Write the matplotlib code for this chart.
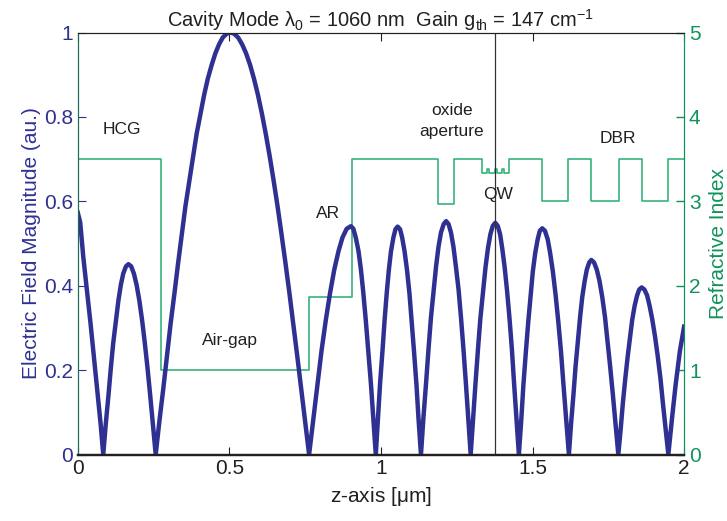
import numpy as np
import matplotlib.pyplot as plt

plt.rcParams['font.family'] = ['Liberation Sans', 'DejaVu Sans']
plt.rcParams['mathtext.fontset'] = 'custom'
plt.rcParams['mathtext.rm'] = 'Liberation Sans'
plt.rcParams['mathtext.it'] = 'Liberation Sans'

# ---------------------------------------------------------------------------
# Data
# ---------------------------------------------------------------------------

# electric field magnitude |E| along z (um), one arc per two lines
field_z = [
    0.000, 0.008, 0.018, 0.042, 0.064, 0.075, 0.084,
    0.092, 0.101, 0.109, 0.117, 0.126, 0.134, 0.142, 0.150, 0.159, 0.167,
    0.176, 0.185, 0.194, 0.203, 0.212, 0.221, 0.230, 0.239, 0.248, 0.257,
    0.269, 0.282, 0.294, 0.306, 0.319, 0.331, 0.343, 0.355, 0.368, 0.380,
    0.392, 0.405, 0.417, 0.429, 0.442, 0.454, 0.466, 0.478, 0.491, 0.503,
    0.516, 0.529, 0.542, 0.555, 0.568, 0.581, 0.594, 0.607, 0.620, 0.633,
    0.646, 0.659, 0.672, 0.685, 0.698, 0.711, 0.724, 0.737, 0.750, 0.763,
    0.777, 0.791, 0.804, 0.818, 0.832, 0.846, 0.860, 0.873, 0.887, 0.901,
    0.909, 0.917, 0.926, 0.934, 0.942, 0.950, 0.958, 0.967, 0.975, 0.983,
    0.990, 0.997, 1.005, 1.012, 1.019, 1.026, 1.033, 1.041, 1.048, 1.055,
    1.063, 1.070, 1.078, 1.086, 1.094, 1.101, 1.109, 1.117, 1.124, 1.132,
    1.140, 1.149, 1.157, 1.165, 1.174, 1.182, 1.190, 1.198, 1.207, 1.215,
    1.223, 1.231, 1.239, 1.247, 1.256, 1.264, 1.272, 1.280, 1.288, 1.296,
    1.304, 1.312, 1.320, 1.328, 1.337, 1.345, 1.353, 1.361, 1.369, 1.377,
    1.385, 1.393, 1.400, 1.408, 1.416, 1.424, 1.432, 1.439, 1.447, 1.455,
    1.463, 1.470, 1.478, 1.486, 1.494, 1.501, 1.509, 1.517, 1.524, 1.532,
    1.541, 1.550, 1.558, 1.567, 1.576, 1.585, 1.594, 1.602, 1.611, 1.620,
    1.627, 1.635, 1.642, 1.650, 1.657, 1.664, 1.672, 1.679, 1.687, 1.694,
    1.703, 1.712, 1.721, 1.730, 1.739, 1.747, 1.756, 1.765, 1.774, 1.783,
    1.791, 1.798, 1.806, 1.814, 1.822, 1.829, 1.837, 1.845, 1.852, 1.860,
    1.869, 1.878, 1.886, 1.895, 1.904, 1.913, 1.922, 1.930, 1.939, 1.948,
    1.960, 1.972, 1.986, 2.000,
]
field_e = [
    0.573, 0.550, 0.469, 0.311, 0.153, 0.075, 0.000,
    0.070, 0.139, 0.205, 0.265, 0.319, 0.365, 0.402, 0.429, 0.446, 0.451,
    0.446, 0.429, 0.402, 0.365, 0.319, 0.265, 0.205, 0.139, 0.070, 0.000,
    0.078, 0.156, 0.233, 0.309, 0.383, 0.454, 0.522, 0.588, 0.649, 0.707,
    0.760, 0.809, 0.853, 0.891, 0.924, 0.951, 0.972, 0.988, 0.997, 1.000,
    0.997, 0.988, 0.972, 0.951, 0.924, 0.891, 0.853, 0.809, 0.760, 0.707,
    0.649, 0.588, 0.522, 0.454, 0.383, 0.309, 0.233, 0.156, 0.078, 0.000,
    0.084, 0.167, 0.246, 0.318, 0.382, 0.438, 0.482, 0.514, 0.535, 0.541,
    0.535, 0.514, 0.482, 0.438, 0.382, 0.318, 0.246, 0.167, 0.084, 0.000,
    0.084, 0.167, 0.245, 0.318, 0.382, 0.437, 0.481, 0.514, 0.534, 0.540,
    0.534, 0.514, 0.481, 0.437, 0.382, 0.318, 0.245, 0.167, 0.084, 0.000,
    0.086, 0.171, 0.251, 0.325, 0.391, 0.447, 0.493, 0.526, 0.546, 0.553,
    0.546, 0.526, 0.493, 0.447, 0.391, 0.325, 0.251, 0.171, 0.086, 0.000,
    0.086, 0.170, 0.249, 0.323, 0.388, 0.444, 0.489, 0.522, 0.542, 0.549,
    0.542, 0.522, 0.489, 0.444, 0.388, 0.323, 0.249, 0.170, 0.086, 0.000,
    0.084, 0.166, 0.243, 0.315, 0.379, 0.434, 0.478, 0.510, 0.530, 0.536,
    0.530, 0.510, 0.478, 0.434, 0.379, 0.315, 0.243, 0.166, 0.084, 0.000,
    0.072, 0.142, 0.209, 0.271, 0.326, 0.373, 0.411, 0.438, 0.455, 0.461,
    0.455, 0.438, 0.411, 0.373, 0.326, 0.271, 0.209, 0.142, 0.072, 0.000,
    0.062, 0.122, 0.180, 0.233, 0.280, 0.320, 0.353, 0.377, 0.391, 0.396,
    0.391, 0.377, 0.353, 0.320, 0.280, 0.233, 0.180, 0.122, 0.062, 0.000,
    0.085, 0.165, 0.245, 0.303,
]

# refractive index profile: layer edges (um) and index of each layer
index_edges = [0.0, 0.276, 0.762, 0.903, 1.189, 1.241, 1.333, 1.3505, 1.3575,
               1.375, 1.382, 1.3995, 1.4065, 1.424, 1.532, 1.618, 1.692, 1.785,
               1.860, 1.946, 2.0]
index_vals = [3.5, 1.0, 1.87, 3.5, 2.97, 3.5, 3.34, 3.38, 3.34,
              3.38, 3.34, 3.38, 3.34, 3.5, 3.0, 3.5, 3.0, 3.5,
              3.0, 3.5]

qw_position = 1.377

labels_text = ['HCG', 'Air-gap', 'AR', 'oxide\naperture', 'QW', 'DBR']
labels_z = [0.145, 0.503, 0.825, 1.234, 1.387, 1.780]
labels_e = [0.77, 0.27, 0.57, 0.79, 0.615, 0.75]

# ---------------------------------------------------------------------------
# Figure
# ---------------------------------------------------------------------------

blue = '#2e3192'
green_line = '#36b37a'
green_axis = '#10935a'
dark = '#231f20'

fig = plt.figure(figsize=(7.27, 5.21), dpi=100)
ax1 = fig.add_axes([0.107, 0.1276, 0.834, 0.81])
ax2 = ax1.twinx()

# refractive index (right axis)
step_x = np.array(index_edges)
step_y = np.array(index_vals + [index_vals[-1]])
ax2.step(step_x, step_y, where='post', color=green_line, linewidth=1.2)
ax2.set_ylim(0, 5)
ax2.set_yticks([0, 1, 2, 3, 4, 5])
ax2.set_ylabel('Refractive Index', color=green_axis, fontsize=15, labelpad=6)
ax2.tick_params(axis='y', colors=green_axis, labelsize=15, direction='in',
                length=6, width=1)

# field magnitude (left axis)
ax1.set_zorder(ax2.get_zorder() + 1)
ax1.patch.set_visible(False)
ax1.plot(field_z, field_e, color=blue, linewidth=3.2, solid_joinstyle='round')
ax1.axvline(qw_position, color='#333333', linewidth=0.9)

ax1.set_xlim(0, 2)
ax1.set_ylim(0, 1)
ax1.set_xticks([0, 0.5, 1, 1.5, 2])
ax1.set_xticklabels(['0', '0.5', '1', '1.5', '2'])
ax1.set_yticks([0, 0.2, 0.4, 0.6, 0.8, 1])
ax1.set_yticklabels(['0', '0.2', '0.4', '0.6', '0.8', '1'])
ax1.tick_params(axis='y', colors=blue, labelsize=15, direction='in', length=6)
ax1.tick_params(axis='x', colors=dark, labelsize=15, direction='in', length=6,
                top=True)
ax1.set_ylabel('Electric Field Magnitude (au.)', color=blue, fontsize=15,
               labelpad=2)
ax1.set_xlabel(r'z-axis [$\mathregular{\mu}$m]', color=dark, fontsize=15,
               labelpad=5)

for ax in (ax1, ax2):
    ax.spines['left'].set_color('#1d6b5a')
    ax.spines['right'].set_color(green_axis)
    ax.spines['top'].set_color(dark)
    ax.spines['bottom'].set_color(dark)
    ax.spines['bottom'].set_linewidth(1.6)

for txt, zx, ey in zip(labels_text, labels_z, labels_e):
    ax1.text(zx, ey, txt, ha='center', va='center', fontsize=12.5,
             color=dark, linespacing=1.5)

ax1.set_title(r'Cavity Mode $\mathregular{\lambda_0}$ = 1060 nm  Gain '
              r'$\mathregular{g_{th}}$ = 147 cm$^{\mathregular{-1}}$',
              fontsize=14.5, color=dark, pad=3)

plt.savefig('out.png', dpi=100)
